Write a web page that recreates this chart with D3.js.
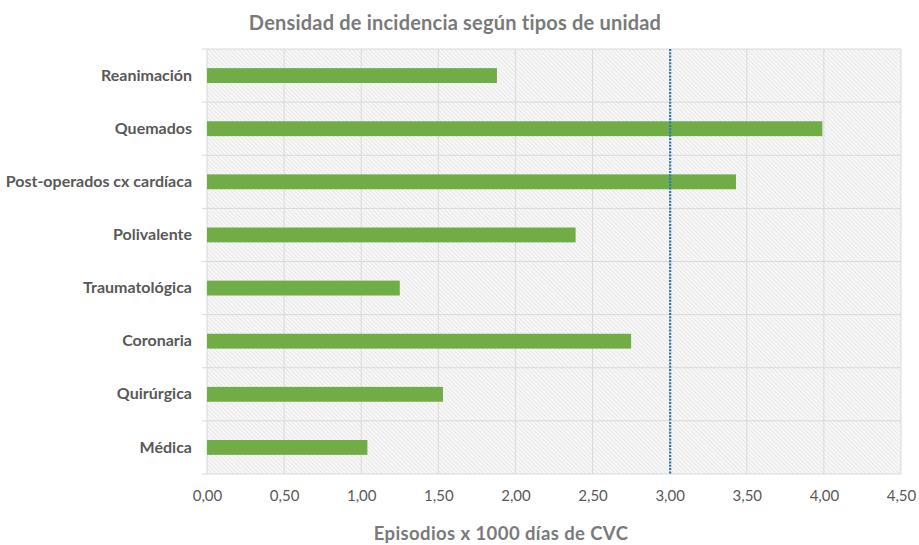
<!DOCTYPE html>
<html>
<head>
<meta charset="utf-8">
<script src="https://cdn.jsdelivr.net/npm/d3@7"></script>
<style>
  html, body { margin: 0; padding: 0; background: #fff; }
  svg { display: block; font-family: Lato, "Open Sans", sans-serif; }
</style>
</head>
<body>
<svg id="chart" width="919" height="545"></svg>
<script>
// Unit types, top to bottom
const categories = ["Reanimación", "Quemados", "Post-operados cx cardíaca", "Polivalente",
                    "Traumatológica", "Coronaria", "Quirúrgica", "Médica"];
// Incidence density (episodes per 1000 CVC days)
const values = [1.88, 3.99, 3.43, 2.39, 1.25, 2.75, 1.53, 1.04];
// Reference level shown as a dotted vertical line
const referenceValue = [3.00];
const xTicks = [0, 0.5, 1, 1.5, 2, 2.5, 3, 3.5, 4, 4.5];

const title = "Densidad de incidencia según tipos de unidad";
const xTitle = "Episodios x 1000 días de CVC";

const svg = d3.select("#chart");
const margin = { top: 49, right: 18, bottom: 71, left: 207 };
const W = 919, H = 545;
const iw = W - margin.left - margin.right;
const ih = H - margin.top - margin.bottom;

// Diagonal hatch fill for the plot background
const defs = svg.append("defs");
const pat = defs.append("pattern")
  .attr("id", "hatch")
  .attr("patternUnits", "userSpaceOnUse")
  .attr("width", 3).attr("height", 3)
  .attr("patternTransform", "rotate(-45)");
pat.append("rect").attr("width", 3).attr("height", 3).attr("fill", "#f7f7f7");
pat.append("line").attr("x1", 0).attr("y1", 0).attr("x2", 0).attr("y2", 3)
  .attr("stroke", "#dadada").attr("stroke-width", 1);

const g = svg.append("g").attr("transform", `translate(${margin.left},${margin.top})`);

const x = d3.scaleLinear().domain([0, 4.5]).range([0, iw]);
const y = d3.scaleBand().domain(categories).range([0, ih]).paddingInner(0.72).paddingOuter(0.36);

g.append("rect").attr("width", iw).attr("height", ih).attr("fill", "url(#hatch)");

// Vertical gridlines
g.append("g").selectAll("line").data(xTicks).join("line")
  .attr("x1", d => x(d)).attr("x2", d => x(d))
  .attr("y1", 0).attr("y2", ih)
  .attr("stroke", "#d9d9d9").attr("stroke-width", 1);

// Horizontal category separators
const seps = d3.range(categories.length + 1).map(i => i * ih / categories.length);
g.append("g").selectAll("line").data(seps).join("line")
  .attr("x1", -5).attr("x2", iw)
  .attr("y1", d => d).attr("y2", d => d)
  .attr("stroke", "#d9d9d9").attr("stroke-width", 1);

// Bars
g.append("g").selectAll("rect").data(values).join("rect")
  .attr("x", x(0))
  .attr("y", (d, i) => y(categories[i]))
  .attr("width", d => x(d) - x(0))
  .attr("height", y.bandwidth())
  .attr("fill", "#70ad47");

// Reference line
g.append("g").selectAll("line").data(referenceValue).join("line")
  .attr("x1", d => x(d) + 0.5).attr("x2", d => x(d) + 0.5)
  .attr("y1", 0).attr("y2", ih)
  .attr("stroke", "#2e75b6").attr("stroke-width", 2.2)
  .attr("stroke-dasharray", "2,1.3");

// Category labels
const yAxis = d3.axisLeft(y).tickSize(0).tickPadding(15);
const ya = g.append("g").call(yAxis);
ya.select(".domain").remove();
ya.selectAll("text")
  .attr("font-family", "Lato, sans-serif")
  .attr("font-size", 16).attr("font-weight", "bold").attr("fill", "#595959");

// Value axis
const xAxis = d3.axisBottom(x).tickValues(xTicks).tickSize(0).tickPadding(16)
  .tickFormat(d => d3.format(".2f")(d).replace(".", ","));
const xa = g.append("g").attr("transform", `translate(0,${ih})`).call(xAxis);
xa.select(".domain").remove();
xa.selectAll("text")
  .attr("font-family", "Lato, sans-serif")
  .attr("font-size", 15).attr("fill", "#595959");

// Titles
svg.append("text")
  .attr("x", 455).attr("y", 30)
  .attr("text-anchor", "middle")
  .attr("font-size", 20).attr("font-weight", "bold").attr("fill", "#7a7a7a")
  .attr("letter-spacing", 0.2)
  .text(title);

svg.append("text")
  .attr("x", 501).attr("y", 540)
  .attr("text-anchor", "middle")
  .attr("font-size", 18.5).attr("font-weight", "bold").attr("fill", "#7a7a7a")
  .attr("letter-spacing", 0.4)
  .text(xTitle);
</script>
</body>
</html>
